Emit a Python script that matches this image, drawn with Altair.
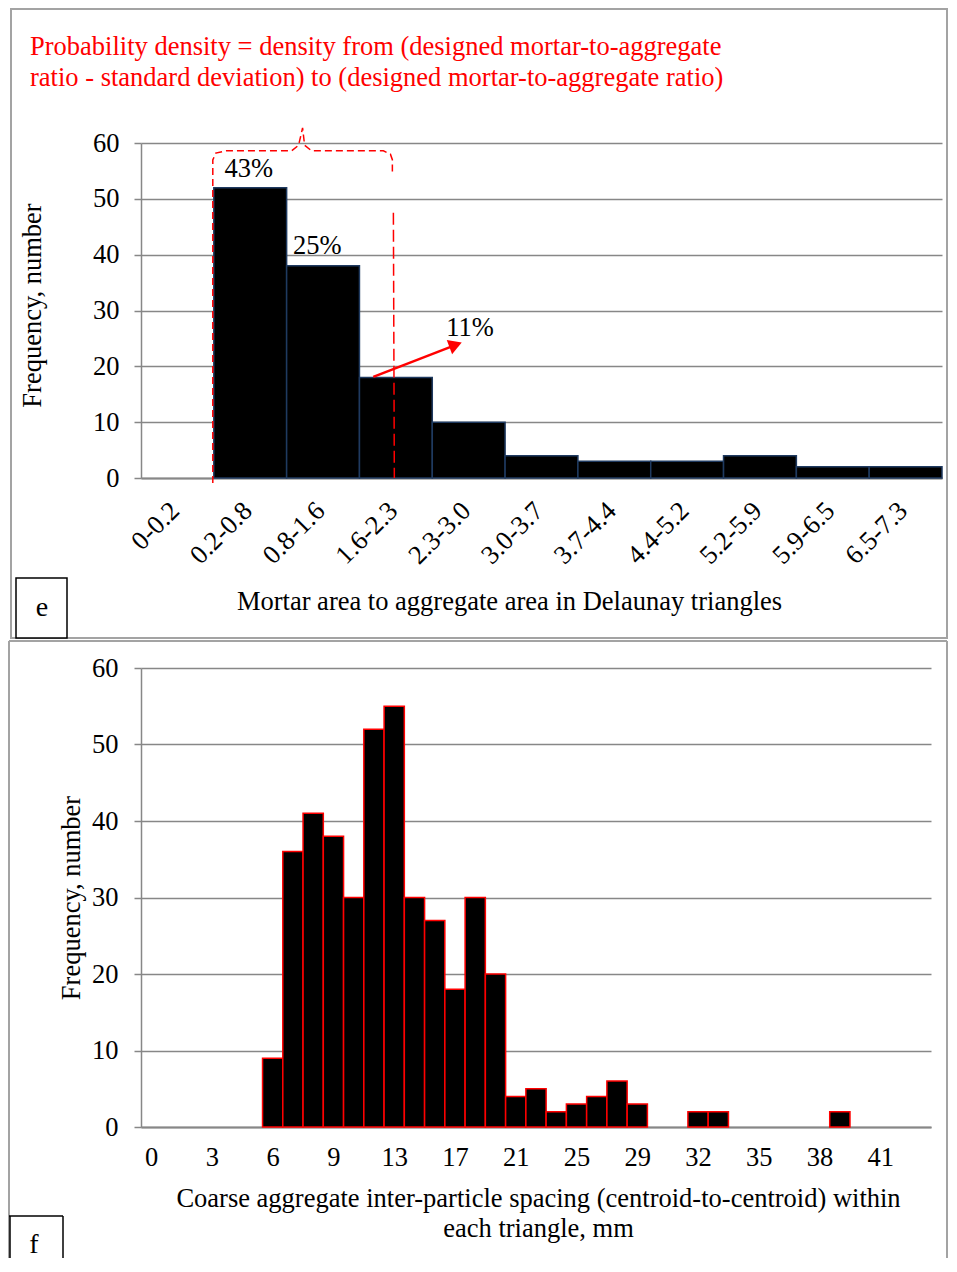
import altair as alt
import pandas as pd

FONT = "Liberation Serif"
GRID = "#878787"
FS = 26.5

# ---------------- panel e data ----------------
e_bins = ["0-0.2", "0.2-0.8", "0.8-1.6", "1.6-2.3", "2.3-3.0", "3.0-3.7",
          "3.7-4.4", "4.4-5.2", "5.2-5.9", "5.9-6.5", "6.5-7.3"]
e_counts = [0, 52, 38, 18, 10, 4, 3, 3, 4, 2, 2]

e_pct_text = ["43%", "25%", "11%"]
e_pct_x = [1.48, 2.42, 4.52]
e_pct_y = [55.3, 41.6, 26.9]

# dashed bracket (in bin-index / frequency units)
bracket_x = [0.986, 0.986, 1.027, 1.164, 2.068, 2.164, 2.219, 2.247, 2.342, 3.329, 3.425, 3.452, 3.452]
bracket_y = [-0.9, 56.96, 58.2, 58.6, 58.6, 59.6, 62.7, 59.6, 58.6, 58.6, 58.0, 57.0, 54.8]
sd_x = [3.466, 3.479]
sd_y = [47.5, 0.0]

arrow_x = [3.19, 4.315]
arrow_y = [18.1, 23.8]
head_x = [4.32]
head_y = [23.86]

note_lines = ["Probability density = density from (designed mortar-to-aggregate",
              "ratio - standard deviation) to (designed mortar-to-aggregate ratio)"]

# ---------------- panel f data ----------------
f_tick_labels = ["0", "3", "6", "9", "13", "17", "21", "25", "29", "32", "35", "38", "41"]
f_counts = [0, 0, 0, 0, 0, 0, 9, 36, 41, 38, 30, 52, 55, 30, 27, 18, 30, 20,
            4, 5, 2, 3, 4, 6, 3, 0, 0, 2, 2, 0, 0, 0, 0, 0, 2, 0, 0, 0, 0]

# ---------------- build tables ----------------
e_df = pd.DataFrame({"bin": e_bins, "count": e_counts,
                     "base": [0] * len(e_bins),
                     "lo": list(range(len(e_bins))),
                     "hi": [i + 1 for i in range(len(e_bins))]})
e_df = e_df[e_df["count"] > 0]
pct_df = pd.DataFrame({"x": e_pct_x, "y": e_pct_y, "t": e_pct_text})
br_df = pd.DataFrame({"x": bracket_x, "y": bracket_y, "o": list(range(len(bracket_x)))})
sd_df = pd.DataFrame({"x": sd_x, "y": sd_y, "o": [0, 1]})
ar_df = pd.DataFrame({"x": [arrow_x[0]], "y": [arrow_y[0]], "x2": [arrow_x[1]], "y2": [arrow_y[1]]})
hd_df = pd.DataFrame({"x": head_x, "y": head_y})

f_df = pd.DataFrame({"count": f_counts,
                     "base": [0] * len(f_counts),
                     "lo": list(range(len(f_counts))),
                     "hi": [i + 1 for i in range(len(f_counts))]})
f_df = f_df[f_df["count"] > 0]

one = pd.DataFrame({"a": [1]})

# ---------------- panel e ----------------
EW, EH = 801, 335
ex_scale = alt.Scale(domain=[0, len(e_bins)], nice=False, zero=False)
ey_scale = alt.Scale(domain=[0, 60], nice=False)

e_label_expr = "[" + ",".join("'%s'" % b for b in e_bins) + "][floor(datum.value)]"

e_x_axis = alt.Axis(values=[i + 0.5 for i in range(len(e_bins))], labelExpr=e_label_expr,
                    grid=False, ticks=False, tickSize=0, domainColor=GRID, domainWidth=2,
                    labelAngle=-45, labelAlign="right", labelBaseline="top",
                    labelPadding=19, labelOffset=-12, labelFlush=False, labelOverlap=False,
                    labelFont=FONT, labelFontSize=FS, labelColor="black",
                    title="Mortar area to aggregate area in Delaunay triangles",
                    titleFont=FONT, titleFontSize=FS, titleFontWeight="normal", titleColor="black",
                    titleX=368, titleY=131, titleAlign="center", titleBaseline="alphabetic")
e_y_axis = alt.Axis(values=list(range(0, 61, 10)), grid=True, gridColor=GRID, gridWidth=1.5,
                    domainColor=GRID, domainWidth=1.5, tickColor=GRID, tickSize=7, tickWidth=1.5,
                    labelFont=FONT, labelFontSize=FS, labelColor="black", labelPadding=15,
                    title="Frequency, number", titleFont=FONT, titleFontSize=FS,
                    titleFontWeight="normal", titleColor="black",
                    titleX=-109, titleY=162, titleAlign="center", titleBaseline="middle")


def ex(field):
    return alt.X(field, scale=ex_scale, axis=e_x_axis)


def ey(field):
    return alt.Y(field, scale=ey_scale, axis=e_y_axis)


e_frame = alt.Chart(one).mark_rect(fill="transparent", stroke="#a3a3a3", strokeWidth=2).encode(
    x=alt.value(-130), x2=alt.value(806), y=alt.value(-134), y2=alt.value(495))
e_bars = alt.Chart(e_df).mark_bar(color="black", stroke="#1f3a60", strokeWidth=1.5).encode(
    x=ex("lo:Q"), x2="hi:Q", y=ey("count:Q"), y2="base:Q")
e_pct = alt.Chart(pct_df).mark_text(font=FONT, fontSize=FS, color="black", baseline="middle").encode(
    x=ex("x:Q"), y=ey("y:Q"), text="t:N")
e_br = alt.Chart(br_df).mark_line(color="red", strokeDash=[7, 4], strokeWidth=1.5).encode(
    x=ex("x:Q"), y=ey("y:Q"), order="o:Q")
e_sd = alt.Chart(sd_df).mark_line(color="red", strokeDash=[12, 5], strokeWidth=1.5).encode(
    x=ex("x:Q"), y=ey("y:Q"), order="o:Q")
e_arrow = alt.Chart(ar_df).mark_rule(color="red", strokeWidth=2.5).encode(
    x=ex("x:Q"), y=ey("y:Q"), x2="x2:Q", y2="y2:Q")
e_head = alt.Chart(hd_df).mark_point(shape="triangle-up", filled=True, color="red", opacity=1,
                                     size=230, angle=69.4).encode(
    x=ex("x:Q"), y=ey("y:Q"))
e_note = alt.Chart(one).mark_text(align="left", baseline="alphabetic", font=FONT, fontSize=FS,
                                  color="red", lineHeight=31).encode(
    x=alt.value(-111), y=alt.value(-88), text=alt.value(note_lines))
e_box = alt.Chart(one).mark_rect(fill="white", stroke="black", strokeWidth=1.5).encode(
    x=alt.value(-125), x2=alt.value(-74), y=alt.value(435), y2=alt.value(495))
e_letter = alt.Chart(one).mark_text(font=FONT, fontSize=28, color="black", baseline="middle").encode(
    x=alt.value(-99), y=alt.value(465), text=alt.value("e"))

panel_e = alt.layer(e_frame, e_bars, e_pct, e_br, e_sd, e_arrow, e_head, e_note, e_box, e_letter
                    ).properties(width=EW, height=EH)

# ---------------- panel f ----------------
FW, FH = 790, 459
fx_scale = alt.Scale(domain=[0, len(f_counts)], nice=False, zero=False)
fy_scale = alt.Scale(domain=[0, 60], nice=False)
f_label_expr = "[" + ",".join("'%s'" % t for t in f_tick_labels) + "][floor(datum.value/3)]"

f_x_axis = alt.Axis(values=[3 * i + 0.5 for i in range(len(f_tick_labels))], labelExpr=f_label_expr,
                    grid=False, ticks=False, tickSize=0, domainColor=GRID, domainWidth=2,
                    labelAngle=0, labelAlign="center", labelBaseline="top", labelPadding=17,
                    labelFlush=False, labelOverlap=False,
                    labelFont=FONT, labelFontSize=FS, labelColor="black",
                    title=["Coarse aggregate inter-particle spacing (centroid-to-centroid) within",
                           "each triangle, mm"],
                    titleFont=FONT, titleFontSize=FS, titleFontWeight="normal", titleColor="black",
                    titleX=397, titleY=79, titleAlign="center", titleBaseline="alphabetic",
                    titleLineHeight=30)
f_y_axis = alt.Axis(values=list(range(0, 61, 10)), grid=True, gridColor=GRID, gridWidth=1.5,
                    domainColor=GRID, domainWidth=1.5, tickColor=GRID, tickSize=7, tickWidth=1.5,
                    labelFont=FONT, labelFontSize=FS, labelColor="black", labelPadding=16,
                    title="Frequency, number", titleFont=FONT, titleFontSize=FS,
                    titleFontWeight="normal", titleColor="black",
                    titleX=-70, titleY=229.5, titleAlign="center", titleBaseline="middle")

f_frame_top = alt.Chart(one).mark_rule(color="#a3a3a3", strokeWidth=2).encode(
    x=alt.value(-132), x2=alt.value(806), y=alt.value(-27), y2=alt.value(-27))
f_frame_left = alt.Chart(one).mark_rule(color="#a3a3a3", strokeWidth=2).encode(
    x=alt.value(-132), x2=alt.value(-132), y=alt.value(-27), y2=alt.value(590))
f_frame_right = alt.Chart(one).mark_rule(color="#a3a3a3", strokeWidth=2).encode(
    x=alt.value(806), x2=alt.value(806), y=alt.value(-27), y2=alt.value(590))
f_bars = alt.Chart(f_df).mark_bar(color="black", stroke="red", strokeWidth=1.5).encode(
    x=alt.X("lo:Q", scale=fx_scale, axis=f_x_axis), x2="hi:Q",
    y=alt.Y("count:Q", scale=fy_scale, axis=f_y_axis), y2="base:Q")
f_box_top = alt.Chart(one).mark_rule(color="black", strokeWidth=1.5).encode(
    x=alt.value(-132), x2=alt.value(-78), y=alt.value(548), y2=alt.value(548))
f_box_right = alt.Chart(one).mark_rule(color="black", strokeWidth=1.5).encode(
    x=alt.value(-78), x2=alt.value(-78), y=alt.value(548), y2=alt.value(590))
f_box_left = alt.Chart(one).mark_rule(color="black", strokeWidth=1.5).encode(
    x=alt.value(-131), x2=alt.value(-131), y=alt.value(548), y2=alt.value(590))
f_letter = alt.Chart(one).mark_text(font=FONT, fontSize=28, color="black", baseline="middle").encode(
    x=alt.value(-107), y=alt.value(577), text=alt.value("f"))

panel_f = alt.layer(f_frame_top, f_frame_left, f_frame_right, f_bars,
                    f_box_top, f_box_right, f_box_left, f_letter).properties(width=FW, height=FH)

chart = alt.vconcat(panel_e, panel_f, spacing=1).properties(
    padding=0, background="white").configure_view(strokeWidth=0)

chart.save("out.html", embed_options={"renderer": "svg", "actions": False})
